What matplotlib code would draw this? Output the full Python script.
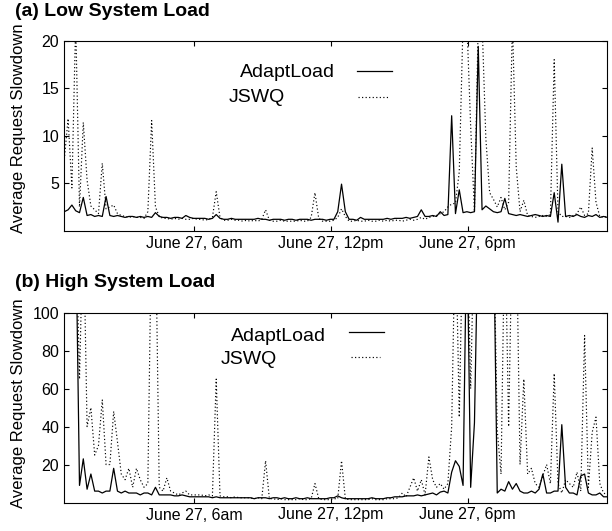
import numpy as np
import matplotlib
matplotlib.use('Agg')
import matplotlib.pyplot as plt
from matplotlib.lines import Line2D

plt.rcParams['font.family'] = ['Liberation Sans', 'DejaVu Sans']

# samples every 10 minutes, first one at 0:18am on June 27
start_hour = 0.3
step_hours = 1 / 6

tick_hours = [6, 12, 18]
tick_labels = ['June 27, 6am', 'June 27, 12pm', 'June 27, 6pm']

# (a) low system load, one row = 2 hours
low_adapt = [
    2.0, 2.2, 2.7, 2.1, 1.9, 3.5, 1.6, 1.7, 1.5, 1.6, 1.5, 3.6,
    1.6, 1.5, 1.6, 1.5, 1.4, 1.5, 1.5, 1.4, 1.5, 1.4, 1.5, 1.4,
    1.9, 1.5, 1.4, 1.4, 1.3, 1.4, 1.4, 1.3, 1.6, 1.4, 1.3, 1.3,
    1.3, 1.3, 1.2, 1.3, 1.7, 1.3, 1.2, 1.2, 1.3, 1.2, 1.2, 1.2,
    1.2, 1.2, 1.2, 1.3, 1.2, 1.2, 1.1, 1.2, 1.2, 1.2, 1.1, 1.2,
    1.2, 1.1, 1.2, 1.2, 1.2, 1.1, 1.2, 1.2, 1.2, 1.1, 1.2, 1.2,
    2.0, 4.9, 2.0, 1.2, 1.2, 1.1, 1.4, 1.2, 1.2, 1.2, 1.2, 1.2,
    1.2, 1.3, 1.2, 1.3, 1.3, 1.3, 1.4, 1.3, 1.4, 1.5, 2.2, 1.5,
    1.5, 1.6, 1.5, 2.0, 1.6, 1.7, 12.1, 1.8, 4.3, 1.9, 2.0, 1.9,
    2.0, 19.4, 2.2, 2.6, 2.3, 2.0, 1.9, 2.0, 3.4, 1.8, 1.7, 1.6,
    1.7, 1.6, 1.5, 1.6, 1.7, 1.6, 1.5, 1.6, 1.5, 4.0, 0.9, 7.0,
    1.5, 1.6, 1.5, 1.7, 1.5, 1.4, 1.6, 1.5, 1.7, 1.4, 1.5, 1.4,
]
low_jswq = [
    7.5, 11.8, 4.5, 22.0, 2.5, 11.4, 5.3, 2.6, 2.2, 1.8, 7.1, 2.3,
    2.5, 2.7, 1.8, 1.6, 1.5, 1.4, 1.5, 1.4, 1.4, 1.3, 2.0, 11.6,
    2.5, 1.5, 1.3, 1.3, 1.2, 1.3, 1.2, 1.3, 1.2, 1.2, 1.3, 1.2,
    1.2, 1.1, 1.2, 1.4, 4.1, 1.4, 1.1, 1.1, 1.2, 1.1, 1.1, 1.0,
    1.1, 1.0, 1.1, 1.0, 1.2, 2.2, 1.1, 1.0, 1.0, 1.1, 1.0, 1.0,
    1.0, 1.0, 1.1, 1.0, 1.0, 1.4, 4.0, 1.3, 1.0, 1.0, 1.0, 1.1,
    1.4, 2.3, 1.5, 1.0, 1.0, 1.1, 1.0, 1.0, 1.1, 1.0, 1.0, 1.1,
    1.0, 1.1, 1.0, 1.1, 1.1, 1.0, 1.1, 1.2, 1.1, 1.2, 1.4, 1.2,
    1.4, 1.5, 1.6, 1.8, 2.0, 2.5, 2.8, 2.9, 6.2, 22.0, 22.0, 11.0,
    2.0, 22.0, 22.0, 9.7, 4.0, 3.3, 2.5, 3.5, 2.2, 3.0, 22.0, 6.7,
    2.0, 3.2, 1.6, 1.5, 1.4, 1.5, 1.6, 1.5, 1.7, 18.0, 2.0, 1.5,
    1.5, 1.4, 1.6, 1.8, 2.5, 1.6, 1.8, 8.7, 3.0, 1.5, 1.4, 1.5,
]

# (b) high system load (values above 100 are off the chart)
high_adapt = [
    150, 150, 150, 150, 9, 23, 7, 15, 6, 6, 5, 6,
    6, 18, 6, 5, 6, 5, 5, 5, 4, 5, 5, 4,
    8, 4, 4, 4, 4, 3.5, 3.5, 4, 3.5, 3, 3, 3,
    3, 3, 3, 2.5, 3, 2.5, 2.5, 2.5, 2.5, 2.5, 2.5, 2.5,
    2.5, 2.5, 2, 2.5, 2.5, 2.5, 2, 2.5, 2.5, 2, 2.5, 2,
    2, 2.5, 2, 2, 2.5, 2, 2, 2, 2, 2, 2.5, 2.5,
    3.5, 2.5, 2, 2, 2, 2, 2, 2, 2, 2.5, 2, 2,
    2, 2.5, 2.5, 3, 3, 3, 3.5, 3.5, 3.5, 4, 3.5, 4,
    4.5, 5, 4, 5.5, 6, 5, 16, 22, 19, 9, 150, 8,
    42, 150, 150, 150, 150, 150, 5, 7, 6, 11, 7, 10,
    6, 5, 5, 6, 5, 7, 15, 5, 5, 6, 6, 41,
    8, 5, 5, 4, 14, 15, 5, 4, 4, 5, 3, 3,
]
high_jswq = [
    150, 150, 150, 150, 65, 150, 40, 50, 25, 30, 54, 20,
    20, 48, 32, 15, 12, 18, 8, 18, 12, 8, 10, 150,
    150, 8, 6, 13, 6, 5, 4, 5, 6, 4, 4, 4,
    4, 3.5, 4, 3.5, 65, 3.5, 3, 3, 2.5, 3, 2.5, 2.5,
    2.5, 2.5, 2, 2.5, 2, 22, 2, 2, 1.5, 2, 1.5, 1.5,
    1.5, 1.5, 2, 1.5, 1.5, 2, 10, 2, 1.5, 1.5, 1.5, 2,
    2, 22, 2, 1.5, 1.5, 1.5, 1.5, 1.5, 1.5, 2, 1.5, 1.5,
    1.5, 2, 2, 2, 2.5, 5, 3, 8, 13, 6, 12, 4,
    24, 12, 8, 10, 7, 10, 40, 150, 45, 150, 150, 60,
    150, 150, 150, 150, 150, 150, 38, 15, 150, 40, 150, 150,
    20, 65, 15, 18, 10, 8, 14, 20, 10, 68, 10, 5,
    12, 10, 8, 16, 6, 88, 8, 37, 45, 10, 5, 4,
]

DOTTED = (0, (1, 2))


def draw_panel(ax, adapt, jswq, ymax, yticks, key):
    hours = start_hour + step_hours * np.arange(len(adapt))
    ax.plot(hours, adapt, color='black', lw=0.9)
    ax.plot(hours, jswq, color='black', lw=0.85, linestyle=DOTTED)
    ax.set_xlim(0.3, 24.13)
    ax.set_ylim(0, ymax)
    ax.set_xticks(tick_hours)
    ax.set_xticklabels(tick_labels)
    ax.set_yticks(yticks)
    ax.tick_params(direction='in', top=True, right=True, length=3.6,
                   width=0.8, labelsize=11.5, pad=3.6)
    for sp in ax.spines.values():
        sp.set_linewidth(0.8)

    # gnuplot-style key: label, then line sample on the right
    (tx1, ty1, lx1, ly1), (tx2, ty2, lx2, ly2) = key
    ax.text(tx1, ty1, 'AdaptLoad', transform=ax.transAxes, ha='right',
            va='baseline', fontsize=14)
    ax.add_line(Line2D(lx1, [ly1, ly1], transform=ax.transAxes,
                       color='black', lw=0.9))
    ax.text(tx2, ty2, 'JSWQ', transform=ax.transAxes, ha='right',
            va='baseline', fontsize=14)
    ax.add_line(Line2D(lx2, [ly2, ly2], transform=ax.transAxes,
                       color='black', lw=0.85, linestyle=DOTTED))


def main():
    fig = plt.figure(figsize=(6.12, 5.31), dpi=100)
    W, H = 612, 531
    ax_a = fig.add_axes([64.3 / W, 1 - 230.7 / H, 543 / W, 190 / H])
    ax_b = fig.add_axes([64.3 / W, 1 - 502.5 / H, 543 / W, 189.8 / H])

    draw_panel(ax_a, low_adapt, low_jswq, 20, [5, 10, 15, 20],
               [(0.4985, 0.809, [0.539, 0.604], 0.8405),
                (0.4065, 0.677, [0.541, 0.598], 0.705)])
    draw_panel(ax_b, high_adapt, high_jswq, 100, [20, 40, 60, 80, 100],
               [(0.482, 0.851, [0.525, 0.588], 0.900),
                (0.392, 0.730, [0.528, 0.582], 0.768)])

    fig.text(15 / W, 1 - 16.3 / H, '(a) Low System Load', fontsize=14,
             fontweight='bold', ha='left', va='baseline')
    fig.text(15 / W, 1 - 286.7 / H, '(b) High System Load', fontsize=14,
             fontweight='bold', ha='left', va='baseline')
    fig.text(18.3 / W, 1 - 128.5 / H, 'Average Request Slowdown', fontsize=12,
             rotation=90, ha='center', va='center')
    fig.text(18.3 / W, 1 - 403 / H, 'Average Request Slowdown', fontsize=12,
             rotation=90, ha='center', va='center')

    fig.savefig('out.png', dpi=100)


if __name__ == '__main__':
    main()
